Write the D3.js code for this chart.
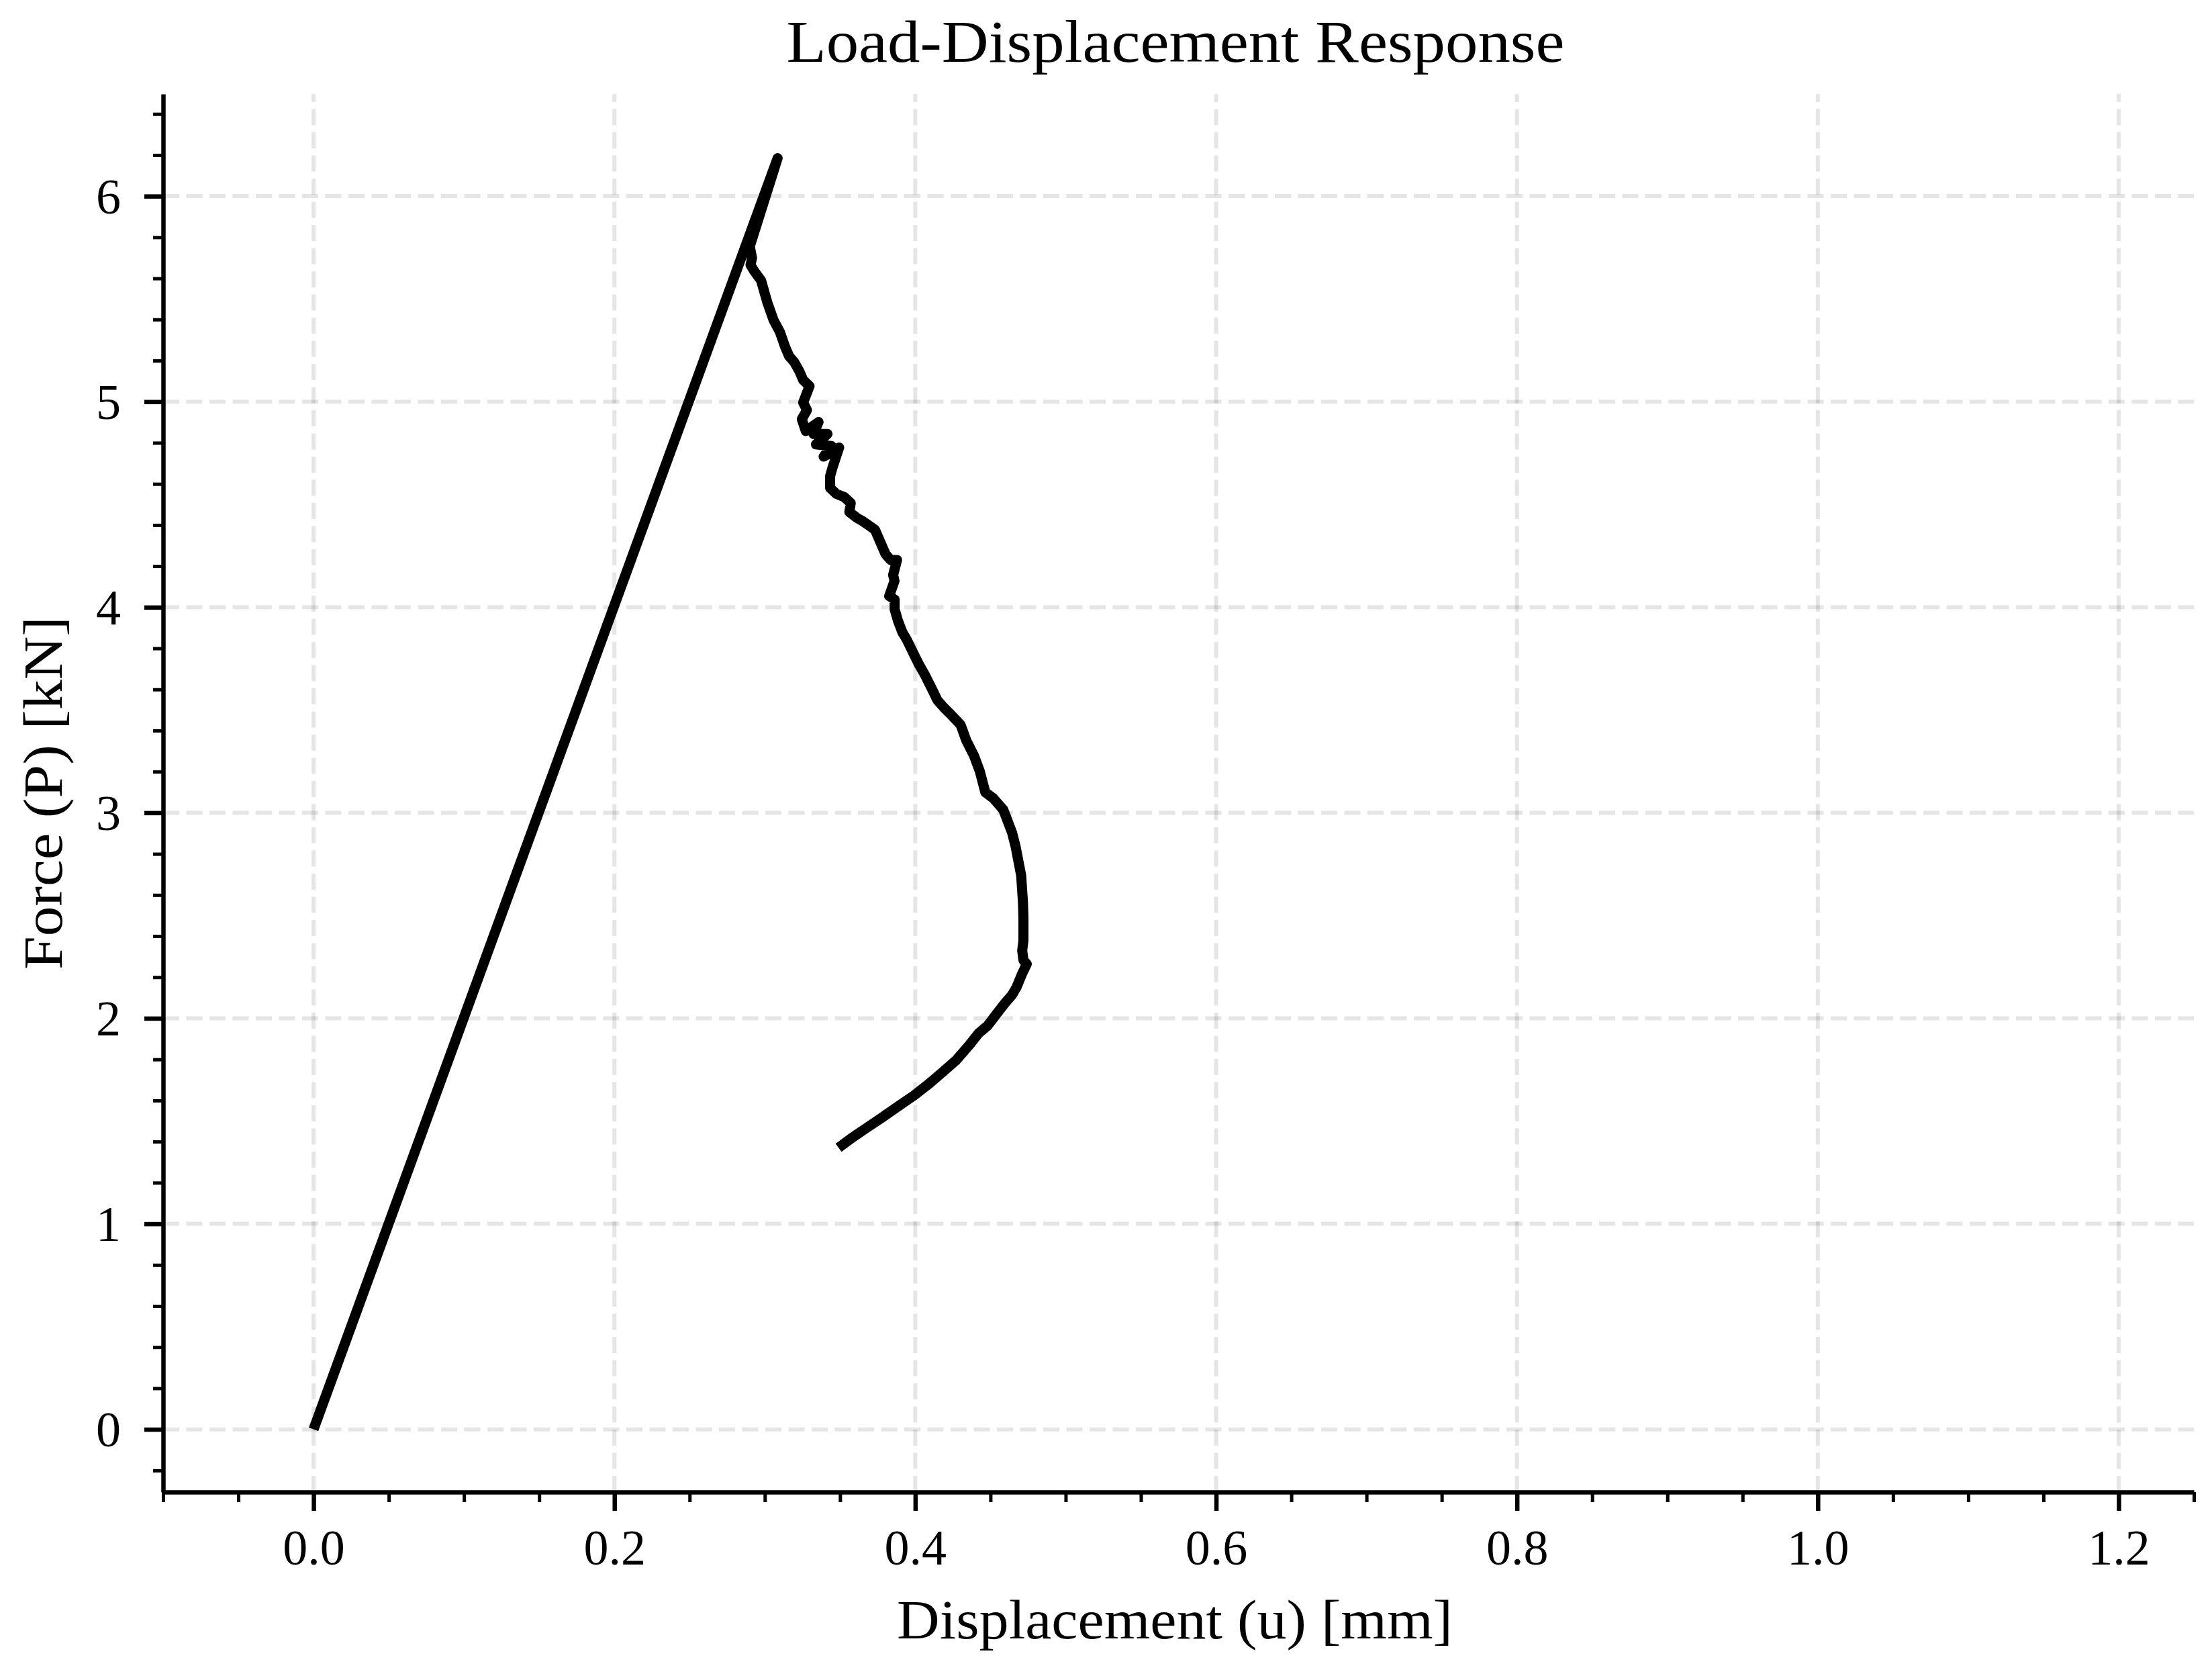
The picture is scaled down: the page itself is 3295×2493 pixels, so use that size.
<!DOCTYPE html>
<html lang="en">
<head>
  <meta charset="UTF-8">
  <title>Load-Displacement Response</title>
  <script src="https://d3js.org/d3.v7.min.js"></script>
  <style>
    body {
      margin: 0;
      background: #ffffff;
    }
    svg {
      display: block;
      background: #ffffff;
    }
    text {
      font-family: "Liberation Serif", "DejaVu Serif", serif;
      fill: #000;
    }
  </style>
</head>
<body>
  <svg id="chart" width="3295" height="2493"></svg>

  <script>
    // curve data (u in mm, P in kN)
    const displacement = [
      0.0, 0.3085, 0.2900, 0.2915, 0.2905, 0.2930, 0.2975, 0.3016, 0.3058, 0.3101,
      0.3135, 0.3161, 0.3195, 0.3229, 0.3255, 0.3297, 0.3255, 0.3280, 0.3246, 0.3272,
      0.3357, 0.3323, 0.3417, 0.3340, 0.3443, 0.3391, 0.3494, 0.3451, 0.3434, 0.3434,
      0.3477, 0.3528, 0.3571, 0.3562, 0.3614, 0.3648, 0.3691, 0.3733, 0.3767, 0.3802,
      0.3836, 0.3879, 0.3853, 0.3862, 0.3827, 0.3863, 0.3863, 0.3885, 0.3915, 0.3945,
      0.3989, 0.4027, 0.4064, 0.4109, 0.4146, 0.4190, 0.4242, 0.4302, 0.4339, 0.4391,
      0.4429, 0.4466, 0.4518, 0.4585, 0.4615, 0.4644, 0.4667, 0.4689, 0.4704, 0.4716,
      0.4719, 0.4719, 0.4711, 0.4719, 0.4741, 0.4711, 0.4674, 0.4644, 0.4600, 0.4540,
      0.4481, 0.4421, 0.4361, 0.4272, 0.4183, 0.4094, 0.3989, 0.3885, 0.3781, 0.3677,
      0.3573, 0.3490
    ];
    const force = [
      0.0, 6.185, 5.755, 5.700, 5.665, 5.635, 5.590, 5.484, 5.397, 5.338,
      5.266, 5.222, 5.193, 5.149, 5.105, 5.076, 4.996, 4.959, 4.915, 4.857,
      4.901, 4.843, 4.843, 4.792, 4.784, 4.733, 4.777, 4.682, 4.638, 4.580,
      4.551, 4.536, 4.507, 4.463, 4.434, 4.420, 4.398, 4.376, 4.318, 4.259,
      4.230, 4.230, 4.157, 4.128, 4.055, 4.037, 3.990, 3.934, 3.877, 3.840,
      3.774, 3.718, 3.671, 3.605, 3.549, 3.512, 3.474, 3.427, 3.352, 3.277,
      3.202, 3.099, 3.071, 3.015, 2.958, 2.902, 2.836, 2.752, 2.696, 2.565,
      2.490, 2.377, 2.330, 2.283, 2.264, 2.218, 2.152, 2.114, 2.077, 2.021,
      1.964, 1.927, 1.871, 1.796, 1.739, 1.683, 1.623, 1.571, 1.518, 1.467,
      1.415, 1.370
    ];

    const xMajor = [0.0, 0.2, 0.4, 0.6, 0.8, 1.0, 1.2];
    const yMajor = [0, 1, 2, 3, 4, 5, 6];
    const xMinor = d3.range(-0.1, 1.2501, 0.05).map(v => +v.toFixed(2))
      .filter(v => !xMajor.some(m => Math.abs(m - v) < 1e-6));
    const yMinor = d3.range(-0.2, 6.41, 0.2).map(v => +v.toFixed(1))
      .filter(v => !yMajor.some(m => Math.abs(m - v) < 1e-6));

    const width = 3295, height = 2493;
    const margin = { left: 243, right: 3295 - 3268, top: 140, bottom: 2493 - 2222 };
    const plotW = width - margin.left - margin.right;
    const plotH = height - margin.top - margin.bottom;

    const svg = d3.select("#chart");
    const g = svg.append("g").attr("transform", `translate(${margin.left},${margin.top})`);

    const x = d3.scaleLinear().domain([-0.1, 1.25]).range([0, plotW]);
    const y = d3.scaleLinear().domain([-0.305, 6.497]).range([plotH, 0]);

    // grid
    const grid = g.append("g").attr("class", "grid")
      .attr("stroke", "#000").attr("stroke-opacity", 0.1)
      .attr("stroke-width", 6).attr("stroke-dasharray", "24,10.5");
    grid.selectAll("line.gx").data(xMajor).join("line")
      .attr("class", "gx")
      .attr("x1", d => x(d)).attr("x2", d => x(d))
      .attr("y1", plotH).attr("y2", 0);
    grid.selectAll("line.gy").data(yMajor).join("line")
      .attr("class", "gy")
      .attr("x1", 0).attr("x2", plotW)
      .attr("y1", d => y(d)).attr("y2", d => y(d));

    // the curve
    const pts = displacement.map((u, i) => [u, force[i]]);
    const line = d3.line().x(d => x(d[0])).y(d => y(d[1]));
    g.append("path")
      .datum(pts)
      .attr("d", line)
      .attr("fill", "none")
      .attr("stroke", "#000")
      .attr("stroke-width", 15)
      .attr("stroke-linejoin", "round")
      .attr("stroke-linecap", "butt");

    // axes
    const xAxisG = g.append("g").attr("transform", `translate(0,${plotH})`);
    xAxisG.append("g")
      .call(d3.axisBottom(x).tickValues(xMinor).tickSize(15).tickSizeOuter(0).tickFormat(""))
      .call(a => a.select(".domain").remove())
      .call(a => a.selectAll("line").attr("stroke-width", 5));
    xAxisG.append("g")
      .call(d3.axisBottom(x).tickValues(xMajor).tickSize(28).tickSizeOuter(0).tickFormat(d3.format(".1f")))
      .call(a => a.select(".domain").attr("stroke-width", 6.5))
      .call(a => a.selectAll("line").attr("stroke-width", 6.5))
      .call(a => a.selectAll("text")
        .attr("y", 108).attr("dy", null)
        .style("font-family", "'Liberation Serif', serif")
        .style("font-size", "74px"));

    const yAxisG = g.append("g");
    yAxisG.append("g")
      .call(d3.axisLeft(y).tickValues(yMinor).tickSize(15).tickSizeOuter(0).tickFormat(""))
      .call(a => a.select(".domain").remove())
      .call(a => a.selectAll("line").attr("stroke-width", 5));
    yAxisG.append("g")
      .call(d3.axisLeft(y).tickValues(yMajor).tickSize(28).tickSizeOuter(0).tickFormat(d3.format("d")))
      .call(a => a.select(".domain").attr("stroke-width", 6.5))
      .call(a => a.selectAll("line").attr("stroke-width", 6.5))
      .call(a => a.selectAll("text")
        .attr("x", -63).attr("dy", "0.34em")
        .style("font-family", "'Liberation Serif', serif")
        .style("font-size", "74px"));

    // title and axis labels
    svg.append("text")
      .attr("x", 1751).attr("y", 92)
      .attr("text-anchor", "middle")
      .attr("textLength", 1159).attr("lengthAdjust", "spacingAndGlyphs")
      .style("font-size", "88px")
      .text("Load-Displacement Response");

    svg.append("text")
      .attr("x", 1750).attr("y", 2440)
      .attr("text-anchor", "middle")
      .attr("textLength", 828).attr("lengthAdjust", "spacingAndGlyphs")
      .style("font-size", "83px")
      .text("Displacement (u) [mm]");

    svg.append("text")
      .attr("transform", "translate(92,1181) rotate(-90)")
      .attr("text-anchor", "middle")
      .attr("textLength", 526).attr("lengthAdjust", "spacingAndGlyphs")
      .style("font-size", "83px")
      .text("Force (P) [kN]");
  </script>
</body>
</html>
